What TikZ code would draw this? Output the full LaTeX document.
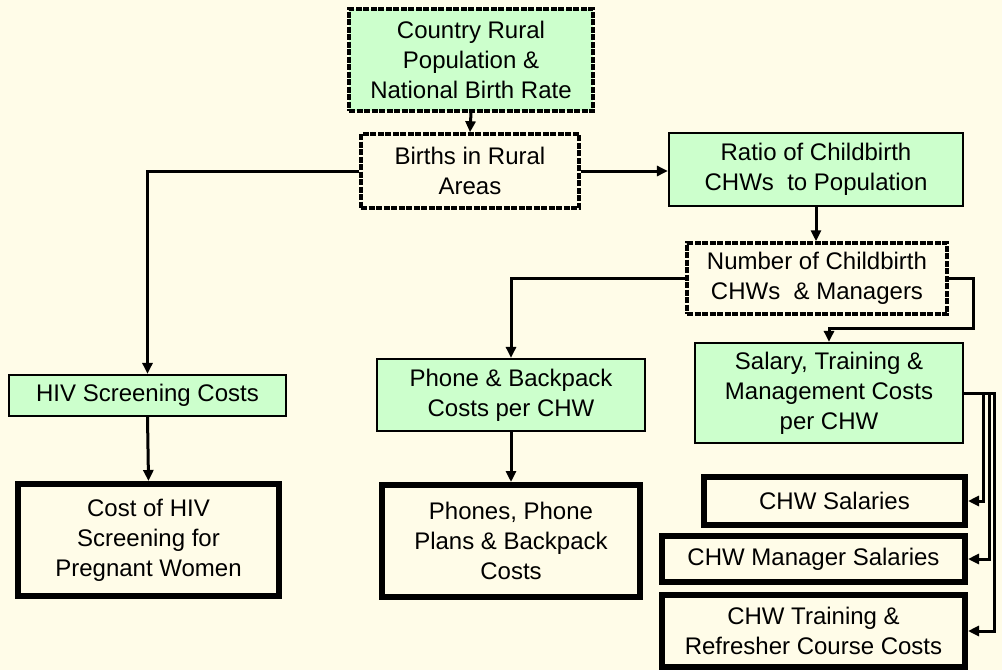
\documentclass[tikz,border=0pt]{standalone}
\usepackage{fontspec}
\setmainfont{Liberation Sans}
\usetikzlibrary{arrows.meta,calc}
\definecolor{bg}{RGB}{255,252,232}
\definecolor{grn}{RGB}{204,255,204}
\begin{document}
\begin{tikzpicture}[x=1pt,y=-1pt,
 every node/.style={font=\fontsize{24}{30}\selectfont, align=center, inner sep=0pt},
 greenbox/.style={draw=black, fill=grn, line width=2.2pt},
 dashbox/.style={draw=black, line width=3.5pt, dash pattern=on 6pt off 1.5pt},
 heavybox/.style={draw=black, line width=6pt, fill=bg},
 arr/.style={draw=black, line width=3pt, -{Triangle[length=11pt,width=10pt]}}]
\fill[bg] (0,0) rectangle (1002,670);
\useasboundingbox (0,0) rectangle (1002,670);

\node[dashbox, fill=grn, minimum width=244, minimum height=102] (top) at (471,60) {Country Rural\\Population \&\\National Birth Rate};
\node[dashbox, fill=bg, minimum width=218, minimum height=74] (births) at (470,171) {Births in Rural\\Areas};
\node[greenbox, minimum width=294, minimum height=73] (ratio) at (816,169.5) {Ratio of Childbirth\\CHWs\ \ to Population};
\node[dashbox, fill=bg, minimum width=260, minimum height=71] (number) at (817,278.5) {Number of Childbirth\\CHWs\ \ \& Managers};
\node[greenbox, minimum width=268, minimum height=100] (salary) at (829,393) {Salary, Training \&\\Management Costs\\per CHW};
\node[heavybox, minimum width=261, minimum height=48] (chwsal) at (834.5,501) {CHW Salaries};
\node[heavybox, minimum width=303, minimum height=46] (mgr) at (813.5,559) {CHW Manager Salaries};
\node[heavybox, minimum width=303, minimum height=72] (train) at (813.5,631) {CHW Training \&\\Refresher Course Costs};
\node[greenbox, minimum width=277, minimum height=41] (hiv) at (147.5,395.5) {HIV Screening Costs};
\node[heavybox, minimum width=261, minimum height=112] (costhiv) at (148.5,540) {Cost of HIV\\Screening for\\Pregnant Women};
\node[greenbox, minimum width=268, minimum height=72] (phone) at (511,395) {Phone \& Backpack\\Costs per CHW};
\node[heavybox, minimum width=258, minimum height=112] (phones) at (511,541) {Phones, Phone\\Plans \& Backpack\\Costs};

\draw[arr] (top.south) -- (births.north);
\draw[arr] (births.west) -| (hiv.north);
\draw[arr] (hiv.south) -- (costhiv.north);
\draw[arr] (births.east) -- (ratio.west |- births.east);
\draw[arr] (ratio.south) -- (ratio.south |- number.north);
\draw[arr] (number.west) -| (phone.north);
\draw[arr] (phone.south) -- (phones.north);
\draw[arr] (number.east) -- ++(25,0) -- ++(0,50) -| (salary.north);
\draw[arr] (salary.east) -- ++(19,0) |- (chwsal.east);
\draw[arr] (salary.east) -- ++(25,0) |- (mgr.east);
\draw[arr] (salary.east) -- ++(30,0) |- (train.east);
\end{tikzpicture}
\end{document}
